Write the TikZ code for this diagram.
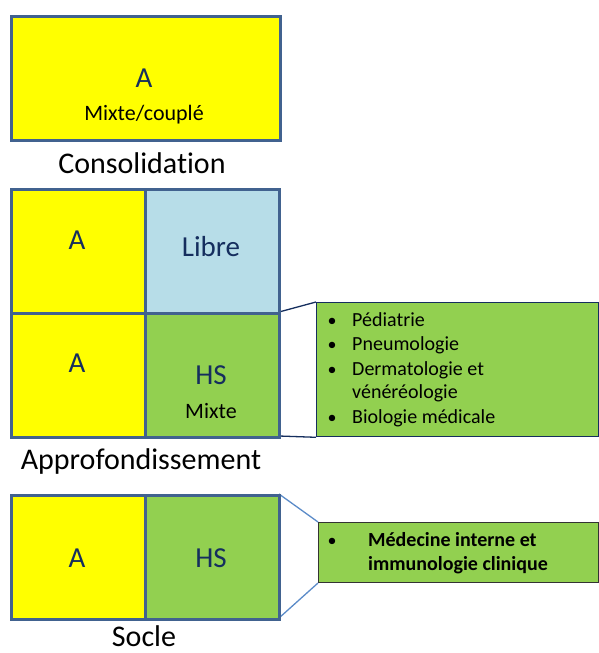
\documentclass[tikz,border=0pt]{standalone}
\usepackage{fontspec}
\setmainfont{Carlito}[Ligatures={NoCommon}]
\definecolor{cyel}{HTML}{FFFF00}
\definecolor{cgrn}{HTML}{92D050}
\definecolor{cblu}{HTML}{B7DDE8}
\definecolor{cbord}{HTML}{41628F}
\definecolor{cnavy}{HTML}{152E5E}
\definecolor{clink}{HTML}{5B8BC8}
\begin{document}
\begin{tikzpicture}[x=1pt,y=-1pt,
  cell/.style={draw=cbord,line width=2.6pt,minimum width=134pt,minimum height=124pt,inner sep=0pt,anchor=north west},
  big/.style={font=\fontsize{29}{29}\selectfont,text=cnavy,anchor=base,inner sep=0pt},
  small/.style={font=\fontsize{22}{22}\selectfont,text=black,anchor=base,inner sep=0pt},
  title/.style={font=\fontsize{30}{30}\selectfont,text=black,anchor=base,inner sep=0pt},
  item/.style={font=\fontsize{20}{20}\selectfont,text=black,anchor=base west,inner sep=0pt},
  bul/.style={font=\fontsize{18}{18}\selectfont,text=black,anchor=base,inner sep=0pt},
  listbox/.style={fill=cgrn,draw=cnavy,line width=1.3pt,anchor=north west,inner sep=0pt}]
\useasboundingbox (0,0) rectangle (598,653);
% Consolidation
\node[cell,fill=cyel,minimum width=269pt] (top) at (10,15) {};
\node[big] (topA) at (144,87) {A};
\node[small] (topM) at (144,120) {Mixte/couplé};
\node[title] (cons) at (142,173) {Consolidation};
% Approfondissement
\node[listbox,minimum width=282pt,minimum height=134pt] (list1) at (316,302) {};
\draw[cnavy,line width=1.3pt] (279,312) coordinate (l1a) -- (list1.north west);
\draw[cnavy,line width=1.3pt] (279,436) coordinate (l1b) -- (list1.south west);
\node[cell,fill=cyel] (a1) at (10,188) {};
\node[cell,fill=cblu] (libre) at (144,188) {};
\node[cell,fill=cyel] (a2) at (10,312) {};
\node[cell,fill=cgrn] (hs2) at (144,312) {};
\node[big] at (77,249) {A};
\node[big] at (211,256) {Libre};
\node[big] at (77,372) {A};
\node[big] at (211,384) {HS};
\node[small] at (211,418) {Mixte};
\node[title] (appro) at (141,469) {Approfondissement};
\node[bul] at (332,326) {•};
\node[item] at (352,326) {Pédiatrie};
\node[bul] at (332,350) {•};
\node[item] at (352,350) {Pneumologie};
\node[bul] at (332,375) {•};
\node[item] at (352,375) {Dermatologie et};
\node[item] at (352,398) {vénéréologie};
\node[bul] at (332,423) {•};
\node[item] at (352,423) {Biologie médicale};
% Socle
\node[listbox,draw=black!80,line width=1pt,minimum width=280pt,minimum height=60pt] (list2) at (318,522) {};
\draw[clink,line width=1.3pt] (279,494) coordinate (l2a) -- (list2.north west);
\draw[clink,line width=1.3pt] (279,618) coordinate (l2b) -- (list2.south west);
\node[cell,fill=cyel] (a3) at (10,494) {};
\node[cell,fill=cgrn] (hs3) at (144,494) {};
\node[big] at (77,567) {A};
\node[big] at (211,567) {HS};
\node[title] (socle) at (144,646) {Socle};
\node[bul] at (332,546) {•};
\node[item,font=\fontsize{20}{20}\selectfont\bfseries] at (368,546) {Médecine interne et};
\node[item,font=\fontsize{20}{20}\selectfont\bfseries] at (368,570) {immunologie clinique};
\end{tikzpicture}
\end{document}
